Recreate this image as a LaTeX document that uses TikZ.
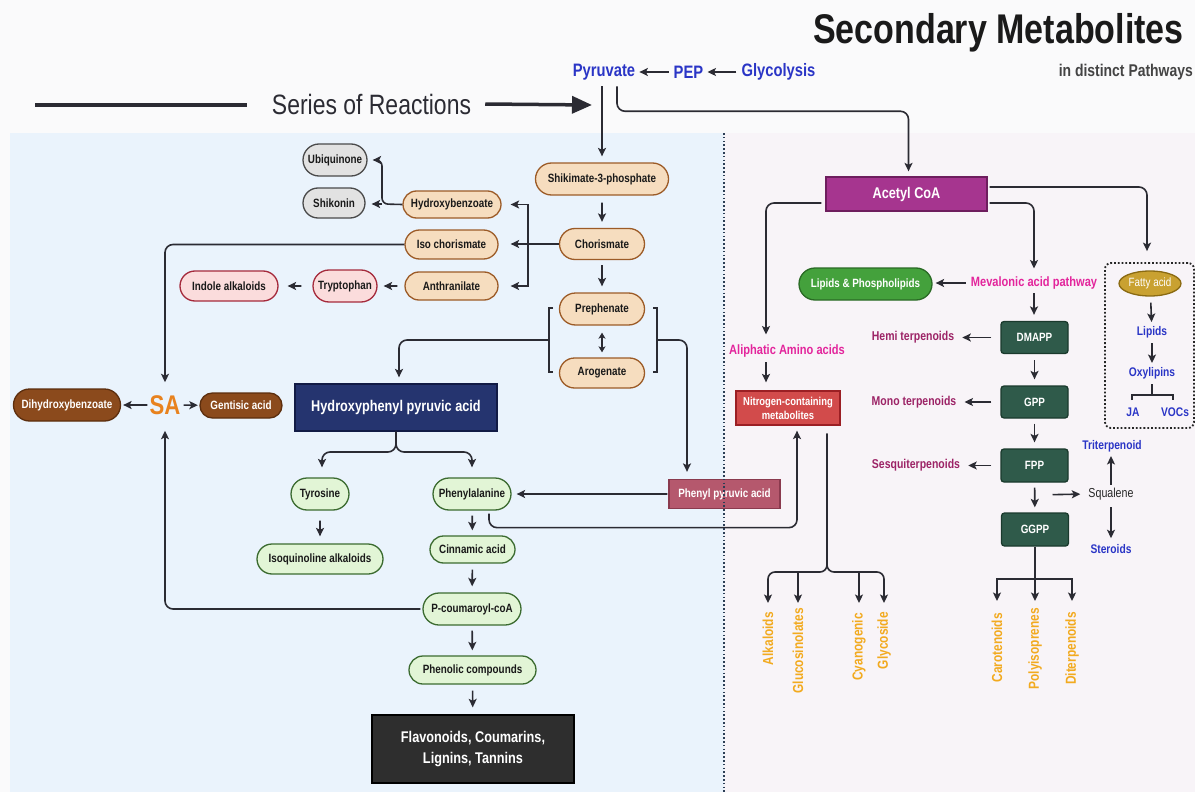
\documentclass[tikz,border=0pt]{standalone}
\usepackage{fontspec}
\setmainfont{Liberation Sans}[FakeStretch=0.82]
\usetikzlibrary{arrows.meta,shapes.geometric,shapes.misc,calc}
\newcommand\myfs[1]{\fontsize{#1}{#1}\selectfont}
\definecolor{arrowc}{HTML}{2B2B33}
\definecolor{leftbg}{HTML}{EAF3FC}
\definecolor{rightbg}{HTML}{F8F4F8}
\definecolor{topbg}{HTML}{FAFAFB}
\definecolor{peachF}{HTML}{F6DDBF}
\definecolor{peachD}{HTML}{9C5B27}
\definecolor{grayF}{HTML}{E2E2E2}
\definecolor{grayD}{HTML}{4A4A4A}
\definecolor{pinkF}{HTML}{FBDCDC}
\definecolor{pinkD}{HTML}{A52A3C}
\definecolor{brownF}{HTML}{8B4A1C}
\definecolor{brownD}{HTML}{5C2E0E}
\definecolor{greenF}{HTML}{E2F5D6}
\definecolor{greenD}{HTML}{3B6B30}
\definecolor{navyF}{HTML}{25346F}
\definecolor{navyD}{HTML}{121B45}
\definecolor{ppaF}{HTML}{B5586D}
\definecolor{ppaD}{HTML}{8A3A4E}
\definecolor{flavF}{HTML}{2E2E2E}
\definecolor{acetF}{HTML}{A6358F}
\definecolor{acetD}{HTML}{6E1E5E}
\definecolor{lipF}{HTML}{44A13C}
\definecolor{lipD}{HTML}{2A6A25}
\definecolor{terpF}{HTML}{2F5A4A}
\definecolor{terpD}{HTML}{1A3A2D}
\definecolor{nitF}{HTML}{D24B4B}
\definecolor{nitD}{HTML}{9B1F24}
\definecolor{fatF}{HTML}{C9A131}
\definecolor{fatD}{HTML}{8A6A12}
\definecolor{blueT}{HTML}{2A35C6}
\definecolor{magT}{HTML}{E3259C}
\definecolor{purT}{HTML}{9C2366}
\definecolor{oraT}{HTML}{F2AA1F}
\definecolor{saT}{HTML}{E8821E}
\definecolor{titleC}{HTML}{1A1A1A}
\definecolor{subC}{HTML}{444444}
\definecolor{divC}{HTML}{2C3E55}
\begin{document}
\begin{tikzpicture}[x=1pt,y=-1pt,
  ln/.style={draw=arrowc, line width=1.6pt},
  arr/.style={ln, -{Stealth[length=8.5pt,width=8pt,inset=2pt]}},
  pillbase/.style={rounded rectangle, draw, line width=1.3pt, inner sep=0pt, font=\bfseries\myfs{12}, text=black!90},
  peach/.style={pillbase, fill=peachF, draw=peachD},
  grayn/.style={pillbase, fill=grayF, draw=grayD},
  pinkn/.style={pillbase, fill=pinkF, draw=pinkD},
  brownn/.style={pillbase, fill=brownF, draw=brownD, text=white},
  greenn/.style={pillbase, fill=greenF, draw=greenD},
  lipn/.style={pillbase, fill=lipF, draw=lipD, text=white},
  boxbase/.style={draw, line width=1.3pt, inner sep=0pt, font=\bfseries\myfs{12}, text=white},
  navyn/.style={boxbase, fill=navyF, draw=navyD, font=\bfseries\myfs{15.5}},
  ppan/.style={boxbase, fill=ppaF, draw=ppaD},
  flavn/.style={boxbase, fill=flavF, draw=black},
  acetn/.style={boxbase, fill=acetF, draw=acetD, font=\bfseries\myfs{15.5}},
  terp/.style={boxbase, fill=terpF, draw=terpD, rounded corners=3pt, minimum width=67, minimum height=32},
  nitn/.style={boxbase, fill=nitF, draw=nitD},
  txt/.style={inner sep=2pt},
  blu/.style={txt, text=blueT, font=\bfseries\myfs{12.5}},
  mag/.style={txt, text=magT, font=\bfseries\myfs{13.5}},
  pur/.style={txt, text=purT, font=\bfseries\myfs{12.8}},
  ora/.style={inner sep=0pt, text=oraT, font=\bfseries\myfs{14.5}, rotate=90, anchor=east}
]
% backgrounds
\fill[topbg] (0,0) rectangle (1195,792);
\fill[leftbg] (10,133) rectangle (724,792);
\fill[rightbg] (724,133) rectangle (1195,792);
\useasboundingbox (0,0) rectangle (1195,792);

% title
\node[anchor=east, inner sep=0, font=\bfseries\myfs{41.5}, text=titleC] (title) at (1184,33) {Secondary Metabolites};
\node[anchor=east, inner sep=0, font=\bfseries\myfs{17}, text=subC] (sub) at (1193,72) {in distinct Pathways};

% top row
\node[txt, text=blueT, font=\bfseries\myfs{18}] (pyr) at (604,72) {Pyruvate};
\node[txt, text=blueT, font=\bfseries\myfs{18}] (pep) at (688.5,72) {PEP};
\node[txt, text=blueT, font=\bfseries\myfs{18}] (glycol) at (778.5,72) {Glycolysis};
\draw[arr, shorten <=3pt, shorten >=2pt] (pep) -- (pyr);
\draw[arr, shorten <=3pt, shorten >=2pt] (glycol) -- (pep);

% series of reactions
\coordinate (s1) at (35,105);
\coordinate (s2) at (247,105);
\coordinate (s3) at (592,105);
\draw[line width=3.5pt, draw=arrowc] (s1) -- (s2);
\node[inner sep=2pt, font=\myfs{28}, text=arrowc] (ser) at (371.5,104) {Series of Reactions};
\draw[line width=3.5pt, draw=arrowc, -{Triangle[length=20pt,width=17pt]}] ([xshift=12pt]ser.east) -- (s3);

% left panel nodes
\node[peach, minimum width=133, minimum height=32] (shik) at (602,179) {Shikimate-3-phosphate};
\node[peach, minimum width=85, minimum height=31] (chor) at (602,244) {Chorismate};
\node[peach, minimum width=85, minimum height=32] (preph) at (602,309) {Prephenate};
\node[peach, minimum width=85, minimum height=30] (arog) at (602,373) {Arogenate};
\node[peach, minimum width=98, minimum height=27] (hb) at (452,204.5) {Hydroxybenzoate};
\node[peach, minimum width=93, minimum height=29] (iso) at (451.5,244.5) {Iso chorismate};
\node[peach, minimum width=93, minimum height=28] (anth) at (451.5,286) {Anthranilate};
\node[grayn, minimum width=64, minimum height=32] (ubiq) at (335,160) {Ubiquinone};
\node[grayn, minimum width=62, minimum height=30] (shkn) at (334,203) {Shikonin};
\node[pinkn, minimum width=64, minimum height=32] (tryp) at (345,286) {Tryptophan};
\node[pinkn, minimum width=98, minimum height=30] (indole) at (229,286) {Indole alkaloids};
\node[brownn, minimum width=107, minimum height=32] (dihyd) at (67,405) {Dihydroxybenzoate};
\node[inner sep=0pt, font=\bfseries\myfs{27}, text=saT] (sa) at (165,405) {SA};
\node[brownn, minimum width=82, minimum height=25] (gent) at (241,405.5) {Gentisic acid};
\node[navyn, minimum width=202, minimum height=47] (hpa) at (396,407.5) {Hydroxyphenyl pyruvic acid};
\node[greenn, minimum width=58, minimum height=32] (tyr) at (320,494) {Tyrosine};
\node[greenn, minimum width=78, minimum height=32] (phe) at (472,494) {Phenylalanine};
\node[greenn, minimum width=126, minimum height=30] (isoq) at (320,559) {Isoquinoline alkaloids};
\node[ppan, minimum width=111, minimum height=29] (ppa) at (724.5,494) {Phenyl pyruvic acid};
\node[greenn, minimum width=85, minimum height=27] (cinn) at (472.5,549.5) {Cinnamic acid};
\node[greenn, minimum width=98, minimum height=32] (pcoum) at (472,609) {P-coumaroyl-coA};
\node[greenn, minimum width=127, minimum height=28] (phen) at (472.5,670) {Phenolic compounds};
\node[flavn, minimum width=202, minimum height=68, align=center, font=\bfseries\fontsize{15.5}{21}\selectfont] (flav) at (473,749) {Flavonoids, Coumarins,\\Lignins, Tannins};

% right panel nodes
\node[acetn, minimum width=161, minimum height=34] (acetyl) at (906.5,194) {Acetyl CoA};
\node[mag] (meva) at (1034,283) {Mevalonic acid pathway};
\node[lipn, minimum width=133, minimum height=32] (lipids) at (865.5,284) {Lipids \& Phospholipids};
\node[terp] (dmapp) at (1034.5,337.5) {DMAPP};
\node[terp] (gpp) at (1034.5,402) {GPP};
\node[terp, minimum height=33] (fpp) at (1034.5,465.5) {FPP};
\node[terp, minimum height=33] (ggpp) at (1035,529.5) {GGPP};
\node[pur] (hemi) at (913,337.5) {Hemi terpenoids};
\node[pur] (mono) at (914,402) {Mono terpenoids};
\node[pur] (sesq) at (916,465.5) {Sesquiterpenoids};
\node[txt, font=\myfs{13}, text=black!85] (squal) at (1111,494) {Squalene};
\node[blu] (triterp) at (1112,446) {Triterpenoid};
\node[blu] (ster) at (1111,549) {Steroids};
\node[mag] (aliph) at (787,351) {Aliphatic Amino acids};
\node[nitn, minimum width=104, minimum height=34, align=center, font=\bfseries\fontsize{11.5}{14}\selectfont] (nitro) at (788,408) {Nitrogen-containing\\metabolites};
\node[draw=black!85, dotted, line width=1.8pt, rounded corners=6pt, minimum width=89, minimum height=165, inner sep=0pt] (fabox) at (1149.5,345.5) {};
\node[ellipse, fill=fatF, draw=fatD, line width=1.3pt, minimum width=62, minimum height=25, inner sep=0pt, text=white, font=\myfs{12}] (fatty) at (1150,283.5) {Fatty acid};
\node[blu] (lip2) at (1152,332) {Lipids};
\node[blu] (oxy) at (1152,373) {Oxylipins};
\node[blu] (ja) at (1133,412) {JA};
\node[blu] (vocs) at (1175,412) {VOCs};
\node[ora] (carot) at (997,613) {Carotenoids};
\node[ora] (polyi) at (1035,608) {Polyisoprenes};
\node[ora] (diter) at (1072,612) {Diterpenoids};
\node[ora] (alk) at (768,612) {Alkaloids};
\node[ora] (gluc) at (798,608) {Glucosinolates};
\node[ora] (cyan) at (859,613) {Cyanogenic};
\node[ora] (glyco) at (884,612) {Glycoside};

% left connectors
\draw[arr, shorten <=4pt, shorten >=6pt] (pyr.south -| shik.north) -- (shik.north);
\draw[arr, shorten <=7pt, shorten >=6pt] (shik) -- (chor);
\draw[arr, shorten <=5pt, shorten >=6pt] (chor) -- (preph);
\draw[ln, {Stealth[length=6pt,width=7pt,inset=1.5pt]}-{Stealth[length=6pt,width=7pt,inset=1.5pt]}, shorten <=7pt, shorten >=5pt] (preph) -- (arog);
\coordinate (cb) at (528,244);
\draw[arr, shorten >=12pt] (chor.west) -- (chor.west -| iso.east);
\draw[arr, shorten >=9pt] (cb) |- (hb.east);
\draw[arr, shorten >=12pt] (cb) |- (anth.east);
\coordinate (hj) at (382,204);
\draw[arr, rounded corners=6pt, shorten >=5pt] (hb.west) -- (hj) |- (ubiq.east);
\draw[arr, shorten >=6pt] (hj) -- (shkn.east |- hj);
\draw[arr, shorten <=7pt, shorten >=6pt] (anth) -- (tryp);
\draw[arr, shorten <=11pt, shorten >=9pt] (tryp) -- (indole);
\draw[arr, rounded corners=8pt, shorten >=13pt] (iso.west) -| (sa.north);
\draw[arr, shorten <=2pt, shorten >=2pt] (sa) -- (dihyd);
\draw[arr, shorten <=3pt, shorten >=1.5pt] (sa) -- (gent);
\draw[arr, rounded corners=8pt, shorten <=2pt, shorten >=16pt] (pcoum.west) -| (sa.south);
% brackets
\coordinate (lb) at (549,340);
\coordinate (rb) at (657,340);
\draw[ln] (553,308) -- (549,308) -- (549,372) -- (553,372);
\draw[ln] (653,308) -- (657,308) -- (657,372) -- (653,372);
\draw[arr, rounded corners=8pt, shorten >=6pt] (lb) -| ([xshift=3pt]hpa.north);
\draw[arr, rounded corners=8pt, shorten >=7pt] (rb) -| ([xshift=-37.5pt]ppa.north);
% hpa brace
\coordinate (hbj) at (396,452);
\draw[arr, rounded corners=8pt, shorten >=10pt] (hpa.south) -- (hbj) -| ([xshift=2pt]tyr.north);
\draw[arr, rounded corners=8pt, shorten >=10pt] (hpa.south) -- (hbj) -| (phe.north);
\draw[arr, shorten <=1pt, shorten >=5pt] (ppa) -- (phe);
\draw[arr, rounded corners=8pt, shorten >=5pt] ($(phe.south)+(17,3)$) -- ++(0,14) -| ([xshift=9pt]nitro.south);
\draw[arr, shorten <=10pt, shorten >=7pt] (tyr) -- (isoq);
\draw[arr, shorten <=5pt, shorten >=5pt] (phe) -- (cinn);
\draw[arr, shorten <=6pt, shorten >=6pt] (cinn) -- (pcoum);
\draw[arr, shorten <=5pt, shorten >=5pt] (pcoum) -- (phen);
\draw[arr, shorten <=6pt, shorten >=7pt] (phen) -- (flav);

% right connectors
\draw[arr, rounded corners=8pt, shorten >=5pt] ($(pyr.south)+(13,4)$) -- ++(0,25) -| ([xshift=2pt]acetyl.north);
\draw[arr, rounded corners=8pt, shorten <=4pt, shorten >=8pt] ($(acetyl.west)+(0,9)$) -| ([xshift=-21pt]aliph.north);
\draw[arr, rounded corners=8pt, shorten <=2pt, shorten >=6pt] ($(acetyl.east)+(0,9)$) -| (meva.north);
\draw[arr, rounded corners=8pt, shorten <=2pt, shorten >=11pt] ($(acetyl.east)+(0,-7)$) -| ([xshift=-2.5pt]fabox.north);
\draw[arr, shorten <=3pt, shorten >=3pt] (meva) -- (meva -| lipids.east);
\draw[arr, shorten <=2pt, shorten >=6pt] (meva.south) -- (meva.south |- dmapp.north);
\draw[arr, shorten <=9pt, shorten >=6pt] (dmapp) -- (hemi);
\draw[arr, shorten <=9pt, shorten >=6pt] (gpp) -- (mono);
\draw[arr, shorten <=9pt, shorten >=6pt] (fpp) -- (sesq);
\draw[arr, shorten <=6pt, shorten >=6pt] (dmapp) -- (gpp);
\draw[arr, shorten <=5pt, shorten >=6pt] (gpp) -- (fpp);
\draw[arr, shorten <=5pt, shorten >=5pt] (fpp) -- (ggpp);
\draw[arr, shorten >=6pt] ($(fpp.south)+(18,12)$) -- (squal.west);
\draw[arr, shorten <=1pt, shorten >=2pt] (squal.north) -- (squal.north |- triterp.south);
\draw[arr, shorten <=5pt, shorten >=4pt] (squal.south) -- (squal.south |- ster.north);
\coordinate (gj) at (1035,579);
\draw[ln] (ggpp.south) -- (gj);
\draw[arr, shorten >=12pt] (gj) -| (carot.east);
\draw[arr, shorten >=7pt] (gj) -- (polyi.east);
\draw[arr, shorten >=11pt] (gj) -| (diter.east);
\draw[arr, shorten <=3pt, shorten >=8pt] ([xshift=-21pt]aliph.south) -- ([xshift=-22pt]nitro.north);
\coordinate (nj) at (827,572);
\draw[arr, rounded corners=7pt, shorten >=9pt] ($(nitro.south)+(39,8)$) -- (nj) -| (alk.east);
\draw[arr, rounded corners=7pt, shorten >=9pt] ($(nitro.south)+(39,8)$) -- (nj) -| (glyco.east);
\draw[arr, shorten >=5pt] (gluc.east |- nj) -- (gluc.east);
\draw[arr, shorten >=10pt] (cyan.east |- nj) -- (cyan.east);
\draw[arr, shorten <=6pt, shorten >=2pt] (fatty) -- (lip2);
\draw[arr, shorten <=3pt, shorten >=2pt] (lip2) -- (oxy);
\coordinate (ob) at (1152,395);
\draw[ln, line width=1.3pt, shorten <=3pt] (oxy.south) -- (ob);
\draw[ln, line width=1.3pt] (1132,400) -- (1132,395) -- (1173,395) -- (1173,400);
% divider
\draw[divC, line width=1.4pt, dash pattern=on 1.6pt off 2.2pt] (724,133) -- (724,792);
\end{tikzpicture}
\end{document}
